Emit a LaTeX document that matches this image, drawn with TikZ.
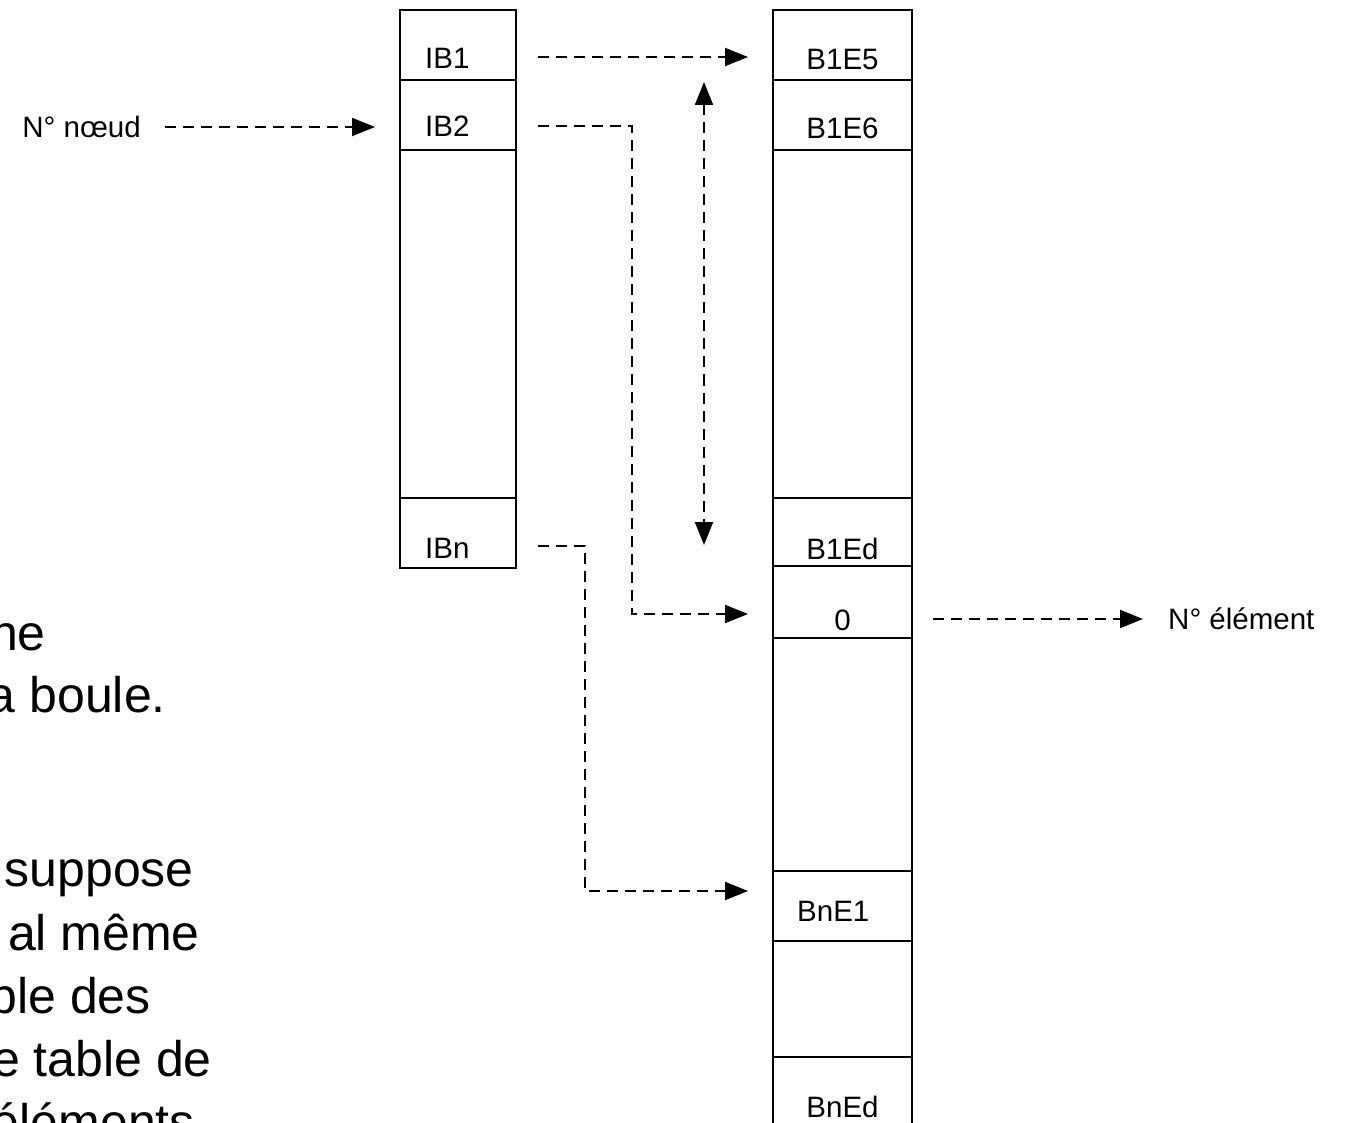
\documentclass[tikz,border=0pt]{standalone}
\usepackage{fontspec}
\setmainfont{Liberation Sans}
\usetikzlibrary{arrows.meta,positioning}

\begin{document}
\begin{tikzpicture}[x=1pt,y=-1pt,
  >={Triangle[length=23pt,width=18pt]},
  cell/.style={draw,line width=2pt,inner sep=0pt,outer sep=0pt},
  lcol/.style={cell,minimum width=116pt},
  rcol/.style={cell,minimum width=139pt},
  lbl/.style={font=\fontsize{29.5}{33}\selectfont,inner sep=0pt},
  bigtxt/.style={font=\fontsize{50}{60}\selectfont,inner sep=0pt,anchor=base east},
  link/.style={line width=2pt,dash pattern=on 11pt off 7pt,->}]
\useasboundingbox (0,0) rectangle (1350,1123);
\clip (0,0) rectangle (1350,1123);

\foreach \t/\x/\y [count=\i] in {ne/46/650,a boule./166/712,suppose/194/886,
  al même/200/950,ble des/151/1013,e table de/212/1076,éléments/195/1139}
  \node[bigtxt] (para\i) at (\x,\y) {\t};

\node[lcol,minimum height=70pt] (ib1) at (458,45) {};
\node[lcol,minimum height=70pt,below=0pt of ib1] (ib2) {};
\node[lcol,minimum height=348pt,below=0pt of ib2] (ibgap) {};
\node[lcol,minimum height=70pt,below=0pt of ibgap] (ibn) {};

\node[rcol,minimum height=70pt] (e5) at (842.5,45) {};
\node[rcol,minimum height=70pt,below=0pt of e5] (e6) {};
\node[rcol,minimum height=348pt,below=0pt of e6] (egap1) {};
\node[rcol,minimum height=68pt,below=0pt of egap1] (ed) {};
\node[rcol,minimum height=72pt,below=0pt of ed] (zero) {};
\node[rcol,minimum height=233pt,below=0pt of zero] (egap2) {};
\node[rcol,minimum height=70pt,below=0pt of egap2] (ne1) {};
\node[rcol,minimum height=116pt,below=0pt of ne1] (egap3) {};
\node[rcol,minimum height=80pt,below=0pt of egap3] (ned) {};

\node[lbl,anchor=base west] (t-ib1) at ([xshift=25pt,yshift=11pt]ib1.south west) {IB1};
\node[lbl,anchor=base west] (t-ib2) at ([xshift=25pt,yshift=13pt]ib2.south west) {IB2};
\node[lbl,anchor=base west] (t-ibn) at ([xshift=25pt,yshift=10pt]ibn.south west) {IBn};
\node[lbl,anchor=base] (t-e5) at ([yshift=10pt]e5.south) {B1E5};
\node[lbl,anchor=base] (t-e6) at ([yshift=11pt]e6.south) {B1E6};
\node[lbl,anchor=base] (t-ed) at ([yshift=7pt]ed.south) {B1Ed};
\node[lbl,anchor=base] (t-zero) at ([yshift=8pt]zero.south) {0};
\node[lbl,anchor=base west] (t-ne1) at ([xshift=24pt,yshift=20pt]ne1.south west) {BnE1};
\node[lbl,anchor=base] (t-ned) at ([yshift=-60pt]ned.north) {BnEd};

\node[lbl,anchor=east] (noeud) at (141,127) {N° nœud};
\node[lbl,anchor=west] (elem) at (1168,619) {N° élément};
\coordinate (nin) at (noeud.east -| ib2.west);
\coordinate (eout) at (elem.west -| zero.east);

\draw[link] ([xshift=24pt]noeud.east) -- ([xshift=-25pt]nin);
\draw[link] ([xshift=22pt,yshift=-12pt]ib1.east) -- ([xshift=-25pt,yshift=-12pt]e5.west);
\draw[link] ([xshift=22pt,yshift=-11pt]ib2.east) -- ++(94,0)
  |- ([xshift=-25pt,yshift=-12pt]zero.west);
\draw[link] ([xshift=22pt,yshift=-13pt]ibn.east) -- ++(47,0)
  |- ([xshift=-25pt,yshift=15pt]ne1.west);
\draw[link,<->] ([xshift=-69pt,yshift=-2pt]e6.north west)
  -- ([xshift=-69pt,yshift=-13pt]ed.west);
\draw[link] ([xshift=21pt]eout) -- ([xshift=-25pt]elem.west);
\end{tikzpicture}
\end{document}
